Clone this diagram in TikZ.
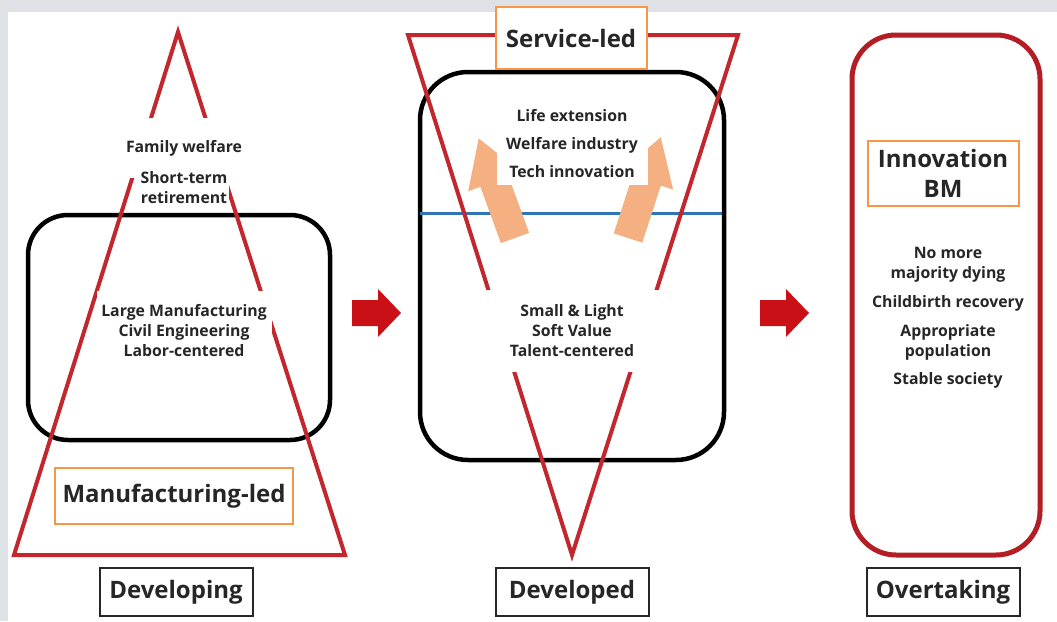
\documentclass[tikz,border=0pt]{standalone}
\usepackage{fontspec}
\setmainfont{Open Sans}
\usetikzlibrary{positioning}

\definecolor{trired}{RGB}{193,39,45}
\definecolor{darkred}{RGB}{178,30,36}
\definecolor{frameorange}{RGB}{246,150,70}
\definecolor{peach}{RGB}{245,176,130}
\definecolor{arrowred}{RGB}{200,16,22}
\definecolor{lineblue}{RGB}{46,117,182}
\definecolor{edgegray}{RGB}{222,225,229}

\tikzset{
  smalltxt/.style={font=\bfseries\fontsize{15.8}{20}\selectfont, align=center, fill=white, inner sep=2pt, text=black!85},
  stagebox/.style={draw=black!85, line width=2pt, fill=white, minimum width=153pt, minimum height=48pt, inner sep=0pt, font=\bfseries\fontsize{24}{27}\selectfont, text=black!85},
  ledbox/.style={draw=frameorange, line width=2pt, fill=white, align=center, inner sep=0pt, font=\bfseries\fontsize{24}{30}\selectfont, text=black!85},
}

\begin{document}
\begin{tikzpicture}[x=1pt, y=-1pt]
  % background
  \fill[edgegray] (0,0) rectangle (1057,621);
  \fill[white] (8,12) rectangle (1057,621);
  \useasboundingbox (0,0) rectangle (1057,621);

  % Developing: pyramid
  \draw[line width=4.5pt, rounded corners=40pt] (28,215) rectangle (330,440);
  \draw[trired, line width=4pt] (178,32) -- (14,555) -- (345,555) -- cycle;
  \node[smalltxt, minimum height=60pt] (famwel) at (184,148) {Family welfare};
  \node[smalltxt] (shortret) at (184,188) {Short-term\\retirement};
  \node[smalltxt, minimum width=175pt, minimum height=80pt] (mfgtxt) at (184,331)
    {Large Manufacturing\\Civil Engineering\\Labor-centered};
  \node[ledbox, minimum width=238pt, minimum height=56pt] (mfgled) at (174,496) {Manufacturing-led};
  \node[stagebox] (developing) at (176,592) {Developing};

  % red arrows between stages
  \foreach \ax in {352,760}
    \fill[arrowred, shift={(\ax,0)}] (0,300) -- (26,300) -- (26,289) -- (49,313)
      -- (26,337) -- (26,326) -- (0,326) -- cycle;

  % Developed: inverted pyramid
  \draw[line width=4.5pt, rounded corners=48pt] (420,72) rectangle (724,460);
  \draw[lineblue, line width=3pt] (420,213) -- (722,213);
  \foreach \tx/\ty/\ang in {515/238/110, 628/238/72}
    \fill[peach, shift={(\tx,\ty)}, rotate=\ang] (0,-15) -- (60,-15) -- (60,-28)
      -- (106,0) -- (60,28) -- (60,15) -- (0,15) -- cycle;
  \draw[trired, line width=4pt] (408,35) -- (738,35) -- (572,555) -- cycle;
  \node[ledbox, minimum width=151pt, minimum height=62pt] (serviceled) at (571,38) {Service-led};
  \node[smalltxt, minimum width=151pt, minimum height=82pt] (lifetxt) at (572,144)
    {Life extension\\[8pt]Welfare industry\\[8pt]Tech innovation};
  \node[smalltxt, minimum width=174pt, minimum height=82pt] (lighttxt) at (572,331)
    {Small \& Light\\Soft Value\\Talent-centered};
  \node[stagebox] (developed) at (572,592) {Developed};

  % Overtaking
  \draw[darkred, line width=5pt, rounded corners=44pt] (852,35) rectangle (1040,555);
  \node[ledbox, minimum width=151pt, minimum height=65pt] (innobm) at (943,173) {Innovation\\BM};
  \node[smalltxt] (nomore) at (948,265) {No more\\majority dying};
  \node[smalltxt] (childbirth) at (948,303) {Childbirth recovery};
  \node[smalltxt] (approp) at (948,342) {Appropriate\\population};
  \node[smalltxt] (stable) at (948,380) {Stable society};
  \node[stagebox] (overtaking) at (943,592) {Overtaking};
\end{tikzpicture}
\end{document}
